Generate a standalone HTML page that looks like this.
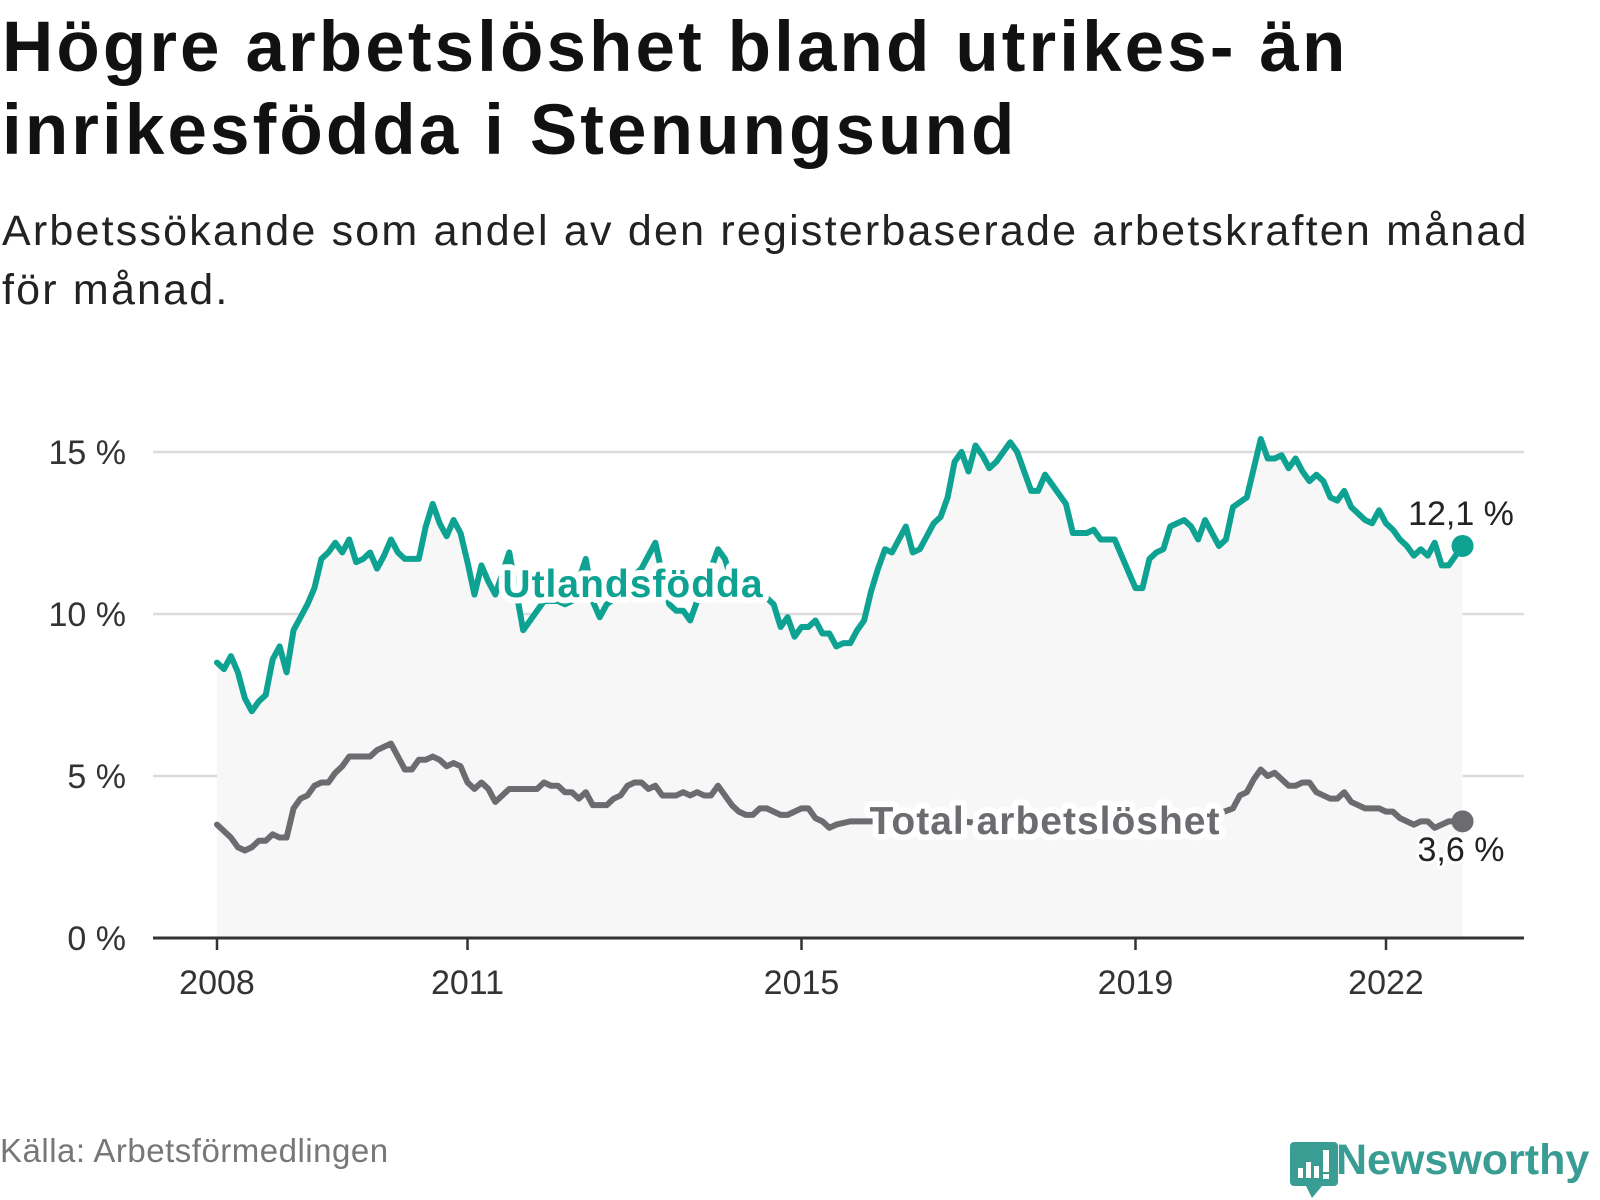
<!DOCTYPE html>
<html><head><meta charset="utf-8">
<style>
html,body{margin:0;padding:0;background:#fff;width:1600px;height:1200px;overflow:hidden;font-family:"Liberation Sans",sans-serif;}
#title{position:absolute;left:2px;top:6px;font-size:71px;font-weight:bold;line-height:83px;color:#111;margin:0;letter-spacing:3.1px}
#sub{position:absolute;left:2px;top:202px;font-size:43px;line-height:59px;color:#222;margin:0;letter-spacing:2.2px}
svg{position:absolute;left:0;top:0}
</style></head><body>
<h1 id="title">Högre arbetslöshet bland utrikes- än<br>inrikesfödda i Stenungsund</h1>
<p id="sub">Arbetssökande som andel av den registerbaserade arbetskraften månad<br>för månad.</p>
<svg id="chart" width="1600" height="1200"></svg>
<script>
const utlMonths=[0,1,2,3,4,5,6,7,8,9,10,11,12,13,14,15,16,17,18,19,20,21,22,23,24,25,26,27,28,29,30,31,32,33,34,35,36,37,38,39,40,42,43,44,46,47,49,50,51,53,54,55,56,58,59,61,62,63,64,65,66,67,68,69,71,72,73,74,76,78,80,81,82,83,84,85,86,87,88,89,90,91,92,93,94,95,96,97,98,99,100,101,102,103,104,105,106,107,108,109,110,111,112,113,114,115,116,117,118,119,120,121,122,123,124,125,126,127,128,129,130,131,132,133,134,135,136,137,138,139,140,141,142,143,144,145,146,148,149,150,151,152,153,154,155,156,157,158,159,160,161,162,163,164,165,166,167,168,169,170,171,172,173,174,175,176,177,178,179];
const utlValues=[8.5,8.3,8.7,8.2,7.4,7.0,7.3,7.5,8.6,9.0,8.2,9.5,9.9,10.3,10.8,11.7,11.9,12.2,11.9,12.3,11.6,11.7,11.9,11.4,11.8,12.3,11.9,11.7,11.7,11.7,12.7,13.4,12.8,12.4,12.9,12.5,11.6,10.6,11.5,11.0,10.6,11.9,10.7,9.5,10.1,10.4,10.4,10.3,10.4,11.7,10.4,9.9,10.3,10.6,11.0,11.4,11.8,12.2,11.2,10.3,10.1,10.1,9.8,10.4,11.4,12.0,11.7,11.0,11.0,10.7,10.3,9.6,9.9,9.3,9.6,9.6,9.8,9.4,9.4,9.0,9.1,9.1,9.5,9.8,10.7,11.4,12.0,11.9,12.3,12.7,11.9,12.0,12.4,12.8,13.0,13.6,14.7,15.0,14.4,15.2,14.9,14.5,14.7,15.0,15.3,15.0,14.4,13.8,13.8,14.3,14.0,13.7,13.4,12.5,12.5,12.5,12.6,12.3,12.3,12.3,11.8,11.3,10.8,10.8,11.7,11.9,12.0,12.7,12.8,12.9,12.7,12.3,12.9,12.5,12.1,12.3,13.3,13.6,14.5,15.4,14.8,14.8,14.9,14.5,14.8,14.4,14.1,14.3,14.1,13.6,13.5,13.8,13.3,13.1,12.9,12.8,13.2,12.8,12.6,12.3,12.1,11.8,12.0,11.8,12.2,11.5,11.5,11.8,12.1];
const totMonths=[0,1,2,3,4,5,6,7,8,9,10,11,12,13,14,15,16,17,18,19,20,21,22,23,24,25,26,27,28,29,30,31,32,33,34,35,36,37,38,39,40,41,42,43,44,46,47,48,49,50,51,52,53,54,55,56,57,58,59,60,61,62,63,64,65,66,67,68,69,70,71,72,73,74,75,76,77,78,79,80,81,82,83,84,85,86,87,88,89,91,92,95,101,107,112,118,124,130,135,141,146,147,148,149,150,151,152,153,154,155,156,157,158,159,160,161,162,163,164,165,166,167,168,169,170,171,172,173,174,175,176,177,179];
const totValues=[3.5,3.3,3.1,2.8,2.7,2.8,3.0,3.0,3.2,3.1,3.1,4.0,4.3,4.4,4.7,4.8,4.8,5.1,5.3,5.6,5.6,5.6,5.6,5.8,5.9,6.0,5.6,5.2,5.2,5.5,5.5,5.6,5.5,5.3,5.4,5.3,4.8,4.6,4.8,4.6,4.2,4.4,4.6,4.6,4.6,4.6,4.8,4.7,4.7,4.5,4.5,4.3,4.5,4.1,4.1,4.1,4.3,4.4,4.7,4.8,4.8,4.6,4.7,4.4,4.4,4.4,4.5,4.4,4.5,4.4,4.4,4.7,4.4,4.1,3.9,3.8,3.8,4.0,4.0,3.9,3.8,3.8,3.9,4.0,4.0,3.7,3.6,3.4,3.5,3.6,3.6,3.6,3.5,3.6,3.5,3.5,3.6,3.5,3.5,3.6,4.0,4.4,4.5,4.9,5.2,5.0,5.1,4.9,4.7,4.7,4.8,4.8,4.5,4.4,4.3,4.3,4.5,4.2,4.1,4.0,4.0,4.0,3.9,3.9,3.7,3.6,3.5,3.6,3.6,3.4,3.5,3.6,3.6];
const yTicks=[0,5,10,15];
const xTickYears=[2008,2011,2015,2019,2022];

const NS='http://www.w3.org/2000/svg';
const svg=document.getElementById('chart');
const X0=217, PX_PER_MONTH=83.5/12, Y0=938, PX_PER_UNIT=32.4;
const xm=m=>X0+m*PX_PER_MONTH;
const yv=v=>Y0-v*PX_PER_UNIT;
function mk(tag,attrs,parent){const e=document.createElementNS(NS,tag);for(const k in attrs)e.setAttribute(k,attrs[k]);(parent||svg).appendChild(e);return e;}

yTicks.forEach(t=>{
  if(t>0){const g=mk('line',{x1:153,x2:1524,y1:yv(t),y2:yv(t),stroke:'#dcdcdc','stroke-width':2.5});
  
  }
  const tx=mk('text',{x:126,y:yv(t)+12,'text-anchor':'end','font-size':34,fill:'#333'});
  tx.textContent=t+' %';
  
  
});
let ad='M'+xm(utlMonths[0])+','+yv(0);
utlMonths.forEach((m,i)=>{ad+=' L'+xm(m)+','+yv(utlValues[i]);});
ad+=' L'+xm(utlMonths[utlMonths.length-1])+','+yv(0)+' Z';
const area=mk('path',{d:ad,fill:'#f7f7f7'});


const ax=mk('line',{x1:153,x2:1524,y1:Y0,y2:Y0,stroke:'#333','stroke-width':3});


xTickYears.forEach(yr=>{
  const x=xm((yr-2008)*12);
  const tk=mk('line',{x1:x,x2:x,y1:Y0,y2:Y0+12,stroke:'#333','stroke-width':2.5});
  
  
  const t=mk('text',{x:x,y:Y0+56,'text-anchor':'middle','font-size':34,fill:'#333'});
  t.textContent=yr;
  
  
});
function line(ms,vs,color,name){
  const d=ms.map((m,i)=>(i?'L':'M')+xm(m)+','+yv(vs[i])).join(' ');
  const p=mk('path',{d:d,fill:'none',stroke:color,'stroke-width':6,'stroke-linejoin':'round','stroke-linecap':'round'});
  
  
  const n=ms.length-1;
  const c=mk('circle',{cx:xm(ms[n]),cy:yv(vs[n]),r:11,fill:color});
  
  
}
line(totMonths,totValues,'#6b6b70','total-line');
line(utlMonths,utlValues,'#0ea292','utlandsfodda-line');
function lbl(x,y,txt,color,name,bold,size,anchor){
  const t=mk('text',{x:x,y:y,'text-anchor':anchor||'middle','font-size':size,'font-weight':bold?'bold':'normal',fill:color,stroke:'#fff','stroke-width':bold?12:6,'paint-order':'stroke','stroke-linejoin':'round','letter-spacing':bold?1:0});
  t.textContent=txt;
  
  
}
lbl(633,597,'Utlandsfödda','#0ea292','series-label-utlandsfodda',true,39);
lbl(1045,834,'Total arbetslöshet','#6b6b70','series-label-total',true,39);
lbl(1461,525,'12,1 %','#222','end-value-utlandsfodda',false,34);
lbl(1461,861,'3,6 %','#222','end-value-total',false,34);
</script>
<div style="position:absolute;left:0;top:1132px;font-size:33px;color:#777;letter-spacing:0.5px">Källa: Arbetsförmedlingen</div>
<div style="position:absolute;left:1290px;top:1140px;width:310px;height:60px">
  <svg width="52" height="60" style="position:absolute;left:0;top:0">
    <rect x="0" y="2" width="48" height="44" rx="4" fill="#3a9d94"/>
    <polygon points="16,46 32,46 22,58" fill="#3a9d94"/>
    <rect x="8" y="28" width="5" height="10" fill="#fff"/><rect x="16" y="22" width="5" height="16" fill="#fff"/><rect x="24" y="26" width="5" height="12" fill="#fff"/><rect x="33" y="10" width="6" height="22" fill="#fff"/><rect x="33" y="34" width="6" height="5" fill="#fff"/>
  </svg>
  <span style="position:absolute;left:46px;top:-4px;font-size:43px;color:#3a9d94;font-weight:bold">Newsworthy</span>
</div>
</body></html>
